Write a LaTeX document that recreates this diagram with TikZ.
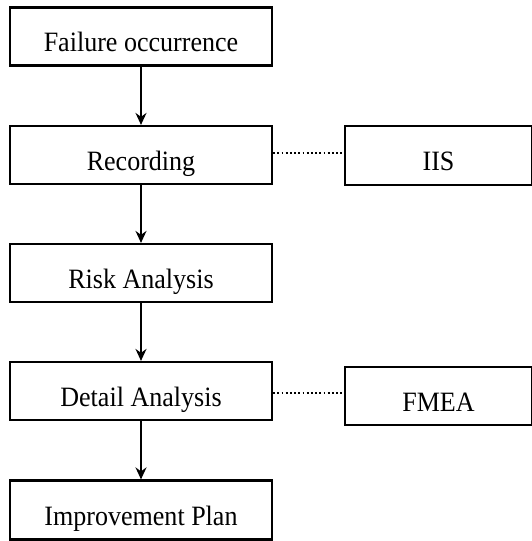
\documentclass[tikz,border=0pt]{standalone}
\usepackage{fontspec}
\setmainfont[FakeStretch=0.93]{Liberation Serif}
\usetikzlibrary{arrows.meta}
\begin{document}
\begin{tikzpicture}[x=1pt,y=1pt,
  box/.style={draw=black, line width=2.2pt, inner sep=0pt, text height=30pt, text depth=0pt,
    font=\fontsize{28}{32}\selectfont},
  mainbox/.style={box, minimum width=262pt, minimum height=58pt},
  sidebox/.style={box, minimum width=187pt, minimum height=58pt},
  flow/.style={line width=1.9pt, -{Stealth[length=12pt,width=11pt,inset=4pt]}},
  link/.style={line width=2pt, dash pattern=on 1.8pt off 2.4pt}
]
\useasboundingbox (0,0) rectangle (532,-541);
\node[mainbox] (f1) at (141,-36.5) {Failure occurrence};
\node[mainbox] (rec) at (141,-155) {Recording};
\node[mainbox] (risk) at (141,-273) {Risk Analysis};
\node[mainbox] (det) at (141,-391) {Detail Analysis};
\node[mainbox, minimum height=59pt] (imp) at (141,-510) {Improvement Plan};
\node[sidebox, minimum height=59pt] (iis) at (438.5,-155.5) {IIS};
\node[sidebox] (fmea) at (438.5,-396) {FMEA};
\draw[flow] (f1.south) -- (rec.north);
\draw[flow] (rec.south) -- (risk.north);
\draw[flow] (risk.south) -- (det.north);
\draw[flow] (det.south) -- (imp.north);
\draw[link] (rec.east |- 0,-153.3) -- (iis.west |- 0,-153.3);
\draw[link] (det.east |- 0,-393.3) -- (fmea.west |- 0,-393.3);
\end{tikzpicture}
\end{document}
